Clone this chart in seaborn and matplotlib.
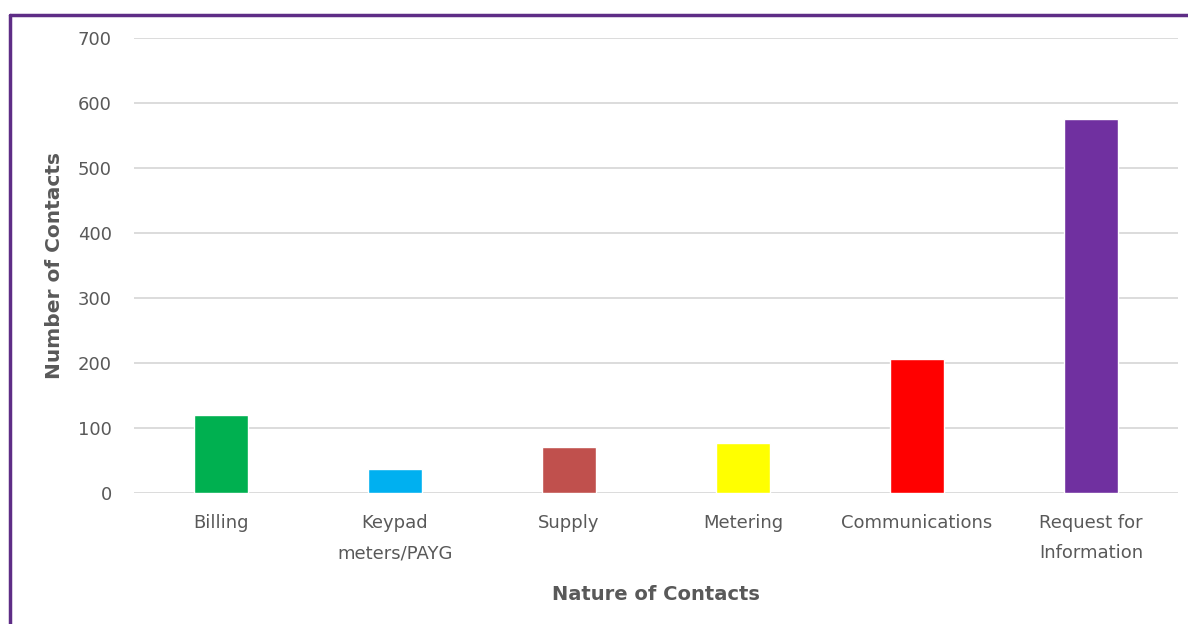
import matplotlib
matplotlib.use('Agg')
import matplotlib.pyplot as plt
import seaborn as sns
import pandas as pd
from matplotlib.lines import Line2D

# data
categories = ['Billing', 'Keypad\nmeters/PAYG', 'Supply', 'Metering',
              'Communications', 'Request for\nInformation']
contacts = [120, 37, 71, 77, 206, 575]
bar_colors = ['#00B050', '#00B0F0', '#C0504D', '#FFFF00', '#FF0000', '#7030A0']
y_ticks = [0, 100, 200, 300, 400, 500, 600, 700]

df = pd.DataFrame({'Nature': categories, 'Contacts': contacts})

sns.set_theme(style='white')
plt.rcParams['font.family'] = ['DejaVu Sans']

W, H = 1188, 624
fig = plt.figure(figsize=(W / 100, H / 100), dpi=100)
ax = fig.add_axes([134 / W, 1 - 493 / H, (1178 - 134) / W, (493 - 38) / H])

sns.barplot(data=df, x='Nature', y='Contacts', hue='Nature', palette=bar_colors,
            width=0.31, legend=False, ax=ax, saturation=1)

ax.set_ylim(0, 700)
ax.set_xlim(-0.5, len(categories) - 0.5)
ax.set_yticks(y_ticks)
ax.yaxis.grid(True, color='#D9D9D9', linewidth=1.3)
ax.set_axisbelow(True)
for s in ax.spines.values():
    s.set_visible(False)

gray = '#595959'
ax.tick_params(axis='both', length=0, labelsize=13, labelcolor=gray)
ax.tick_params(axis='y', pad=16)
ax.tick_params(axis='x', pad=15)
for lbl in ax.get_xticklabels():
    lbl.set_linespacing(1.9)
ax.set_xlabel('Nature of Contacts', fontsize=14, fontweight='bold', color=gray, labelpad=16)
ax.set_ylabel('Number of Contacts', fontsize=14.5, fontweight='bold', color=gray, labelpad=10)

# purple frame (left and top edges visible)
fig.add_artist(Line2D([10 / W, 10 / W], [0, 1 - 15 / H], transform=fig.transFigure,
                      color='#5E2D86', linewidth=2.5))
fig.add_artist(Line2D([10 / W, 1], [1 - 15 / H, 1 - 15 / H], transform=fig.transFigure,
                      color='#5E2D86', linewidth=2.5))

fig.savefig('out.png', dpi=100, facecolor='white')
